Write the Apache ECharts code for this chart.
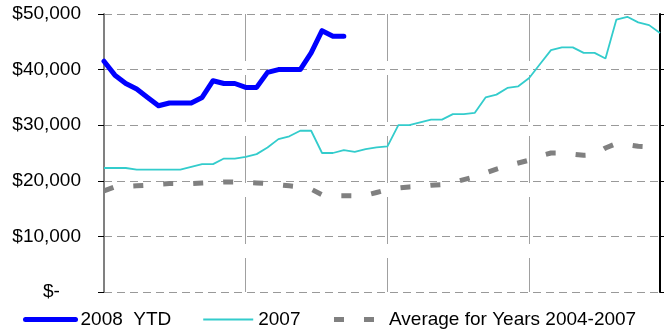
<!DOCTYPE html>
<html style="height: 100%">
   <head>
       <meta charset="utf-8">
       <script src="https://cdn.jsdelivr.net/npm/echarts@6/dist/echarts.min.js"></script>
       <title>Weekly Sales</title>
   </head>
   <body style="height: 100%; margin: 0">
       <div id="container" style="width: 667px; height: 332px"></div>
       <script type="text/javascript">

// 52 weeks of the year
let weeks = [];
for (let w = 1; w <= 52; w++) weeks.push('W' + w);

// 2008 year to date (23 weeks so far)
let ytd2008 = [41500, 39000, 37500, 36500, 35000, 33500, 34000, 34000, 34000, 35000,
    38000, 37500, 37500, 36800, 36800, 39500, 40000, 40000, 40000, 43000,
    47000, 46000, 46000];

// 2007 full year
let y2007 = [22300, 22300, 22300, 22000, 22000, 22000, 22000, 22000, 22500, 23000,
    23000, 24000, 24000, 24300, 24800, 26000, 27500, 28000, 29000, 29000,
    25000, 25000, 25500, 25200, 25700, 26000, 26200, 30000, 30000, 30500,
    31000, 31000, 32000, 32000, 32200, 35000, 35500, 36700, 37000, 38500,
    41000, 43500, 44000, 44000, 43000, 43000, 42000, 49000, 49500, 48500,
    48000, 46600];

// average of 2004-2007
let avg0407 = [18200, 18900, 19000, 19100, 19200, 19400, 19500, 19500, 19500, 19600,
    19700, 19800, 19800, 19700, 19600, 19500, 19300, 19100, 18900, 18500,
    17500, 17300, 17300, 17300, 17400, 17900, 18400, 18700, 18900, 19000,
    19200, 19300, 19700, 20200, 20700, 21400, 22100, 22700, 23200, 23700,
    24500, 25000, 25000, 24800, 24600, 24700, 25900, 26700, 26500, 26200,
    26100, 26000];

let font = 'Liberation Sans, Arial, sans-serif';

function money(v) {
    if (v === 0) return '$-    ';
    return '$' + String(v).replace(/\B(?=(\d{3})+(?!\d))/g, ',');
}

let dom = document.getElementById('container');
let chart = echarts.init(dom);
chart.setOption({
    animation: false,
    grid: { left: 104, right: 7, top: 14, bottom: 40 },
    legend: {
        left: 18,
        top: 305,
        itemWidth: 50,
        itemHeight: 14,
        itemGap: 31,
        itemStyle: { opacity: 0 },
        lineStyle: { width: 'inherit', type: 'inherit' },
        textStyle: { fontSize: 19, fontFamily: font, color: '#000' },
        data: ['2008  YTD', '2007', 'Average for Years 2004-2007']
    },
    xAxis: {
        type: 'category',
        data: weeks,
        boundaryGap: false,
        axisLine: { show: false },
        axisTick: { show: false },
        axisLabel: { show: false },
        splitLine: {
            show: true,
            interval: function (i) { return i > 0 && i % 13 === 0; },
            lineStyle: { color: '#a0a0a0', width: 1, type: [47, 14] }
        }
    },
    yAxis: [
        {
            type: 'value',
            position: 'left',
            min: 0,
            max: 50000,
            interval: 10000,
            axisLine: { show: true, lineStyle: { color: '#808080', width: 2 } },
            axisTick: { show: true, length: 6, lineStyle: { color: '#000' } },
            axisLabel: {
                formatter: money,
                fontSize: 19,
                fontFamily: font,
                color: '#000',
                margin: 23
            },
            splitLine: { lineStyle: { color: '#999', width: 1, type: [8, 5] } }
        },
        {
            type: 'value',
            position: 'right',
            min: 0,
            max: 50000,
            interval: 10000,
            axisLine: { show: true, lineStyle: { color: '#000', width: 2 } },
            axisTick: { show: true, length: 4, lineStyle: { color: '#000' } },
            axisLabel: { show: false },
            splitLine: { show: false }
        }
    ],
    series: [
        {
            name: 'Average for Years 2004-2007',
            type: 'line',
            data: avg0407,
            symbol: 'none',
            z: 2,
            lineStyle: { color: '#808080', width: 5, type: [10, 20], cap: 'butt' },
            itemStyle: { color: '#808080' }
        },
        {
            name: '2007',
            type: 'line',
            data: y2007,
            symbol: 'none',
            z: 3,
            lineStyle: { color: '#33CCCC', width: 1.8 },
            itemStyle: { color: '#33CCCC' }
        },
        {
            name: '2008  YTD',
            type: 'line',
            data: ytd2008,
            symbol: 'none',
            z: 4,
            lineStyle: { color: '#0000FF', width: 5, cap: 'round', join: 'round' },
            itemStyle: { color: '#0000FF' }
        }
    ]
}, true);

       </script>
   </body>
</html>
